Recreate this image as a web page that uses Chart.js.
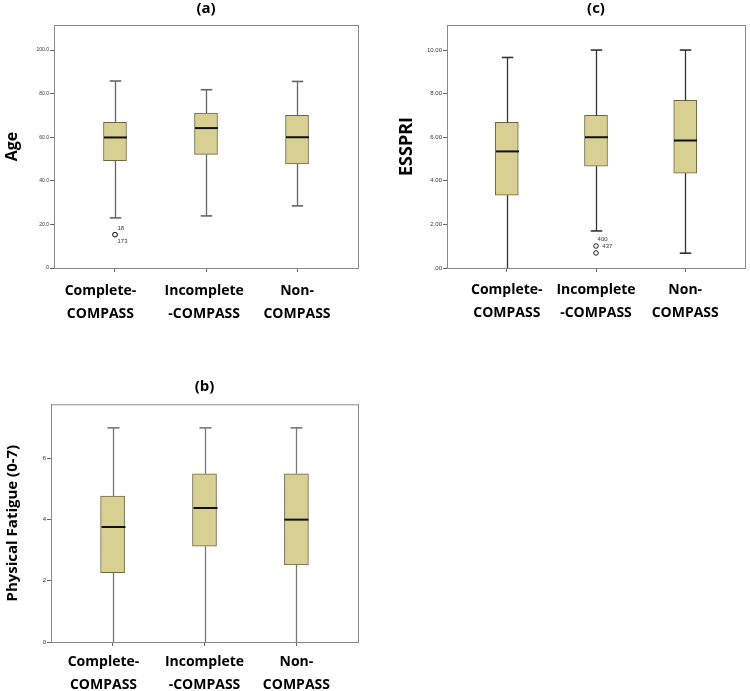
<!DOCTYPE html>
<html>
<head>
<meta charset="utf-8">
<script src="https://cdn.jsdelivr.net/npm/chart.js@4.4.1/dist/chart.umd.min.js"></script>
<style>
  html, body { margin: 0; padding: 0; background: #fff; overflow: hidden; }
  .panel { position: absolute; }
</style>
</head>
<body>
<div class="panel" style="left:0;top:0"><canvas id="ageChart" width="375" height="330"></canvas></div>
<div class="panel" style="left:375px;top:0"><canvas id="esspriChart" width="375" height="330"></canvas></div>
<div class="panel" style="left:0;top:378px"><canvas id="fatigueChart" width="375" height="313"></canvas></div>
<script>
// groups shared by all three panels
const groupLabels = [['Complete-', 'COMPASS'], ['Incomplete', '-COMPASS'], ['Non-', 'COMPASS']];

// (a) Age
const ageLow = [23.0, 23.9, 28.5];
const ageQ1 = [49.3, 52.1, 47.8];
const ageMedian = [59.9, 64.2, 60.0];
const ageQ3 = [66.8, 71.1, 70.0];
const ageHigh = [85.8, 81.8, 85.6];
const ageOutGroup = [1, 1];
const ageOutValue = [15.3, 15.3];
const ageOutId = ['18', '173'];
const ageTicks = [0, 20, 40, 60, 80, 100];
const ageTickLabels = ['.0', '20.0', '40.0', '60.0', '80.0', '100.0'];

// (c) ESSPRI
const esspriLow = [0, 1.70, 0.68];
const esspriQ1 = [3.34, 4.67, 4.35];
const esspriMedian = [5.35, 6.0, 5.85];
const esspriQ3 = [6.68, 7.0, 7.69];
const esspriHigh = [9.66, 10, 10];
const esspriOutGroup = [2, 2];
const esspriOutValue = [1.01, 0.69];
const esspriOutId = ['400', '437'];
const esspriTicks = [0, 2, 4, 6, 8, 10];
const esspriTickLabels = ['.00', '2.00', '4.00', '6.00', '8.00', '10.00'];

// (b) Physical fatigue
const fatigueLow = [0, 0, 0];
const fatigueQ1 = [2.27, 3.13, 2.52];
const fatigueMedian = [3.76, 4.38, 4.0];
const fatigueQ3 = [4.77, 5.5, 5.5];
const fatigueHigh = [7, 7, 7];
const fatigueTicks = [0, 2, 4, 6];
const fatigueTickLabels = ['0', '2', '4', '6'];

Chart.defaults.font.family = '"Open Sans", sans-serif';

// whiskers, medians, frame and outlier ids
const boxExtras = {
  id: 'boxExtras',
  afterDatasetsDraw(chart, args, o) {
    const { ctx, chartArea: a, scales: { x, y } } = chart;
    ctx.save();
    ctx.strokeStyle = '#8a8a8a';
    ctx.lineWidth = 1;
    ctx.strokeRect(a.left + 0.5, a.top + 0.5, a.width, a.height);

    const half = o.boxWidth / 2, cap = o.boxWidth / 4;
    const seg = (x1, y1, x2, y2) => { ctx.beginPath(); ctx.moveTo(x1, y1); ctx.lineTo(x2, y2); ctx.stroke(); };
    o.low.forEach((lo, i) => {
      const px = Math.round(x.getPixelForValue(i + 1)) + 0.5;
      ctx.strokeStyle = o.whiskerColor;
      ctx.lineWidth = 1.3;
      seg(px, y.getPixelForValue(lo), px, y.getPixelForValue(o.q1[i]));
      seg(px, y.getPixelForValue(o.q3[i]), px, y.getPixelForValue(o.high[i]));
      ctx.lineWidth = 1.6;
      seg(px - cap, y.getPixelForValue(o.high[i]), px + cap, y.getPixelForValue(o.high[i]));
      if (lo > y.min) seg(px - cap, y.getPixelForValue(lo), px + cap, y.getPixelForValue(lo));
      ctx.strokeStyle = '#111';
      ctx.lineWidth = 2;
      const my = y.getPixelForValue(o.median[i]);
      seg(px - half, my, px + half, my);
    });

    ctx.fillStyle = '#333';
    ctx.font = '6px "Liberation Sans", sans-serif';
    ctx.textBaseline = 'middle';
    (o.outIds || []).forEach((id, i) => {
      const px = x.getPixelForValue(o.outGroup[i]);
      const py = y.getPixelForValue(o.outValue[i]);
      ctx.fillText(id, px + o.idOffsets[i][0], py + o.idOffsets[i][1]);
    });
    ctx.restore();
  }
};

function makeBoxChart(id, s) {
  const datasets = [{
    type: 'bar',
    data: s.q1.map((v, i) => ({ x: i + 1, y: [v, s.q3[i]] })),
    backgroundColor: '#d7d092',
    borderColor: '#6c6842',
    borderWidth: 1,
    borderSkipped: false,
    barThickness: s.boxWidth
  }];
  if (s.outIds) {
    datasets.push({
      type: 'scatter',
      data: s.outGroup.map((g, i) => ({ x: g, y: s.outValue[i] })),
      pointRadius: 2.3,
      pointBackgroundColor: '#fff',
      pointBorderColor: '#222',
      pointBorderWidth: 1
    });
  }
  // trailing spaces nudge a label left, as in the original layout
  const xLabel = v => groupLabels[v - 1].map(t => t + ' '.repeat(s.labelPad[v - 1]));
  return new Chart(document.getElementById(id), {
    type: 'bar',
    data: { datasets },
    plugins: [boxExtras],
    options: {
      responsive: false,
      animation: false,
      layout: { padding: { right: s.padRight } },
      plugins: {
        legend: { display: false },
        tooltip: { enabled: false },
        title: {
          display: true, text: s.title, color: '#000', fullSize: false,
          font: { size: 15, weight: 'bold' },
          padding: { top: 0, bottom: s.titleGap }
        },
        boxExtras: s
      },
      scales: {
        x: {
          type: 'linear', min: 0.33, max: 3.67, offset: false,
          afterBuildTicks: sc => { sc.ticks = [1, 2, 3].map(v => ({ value: v })); },
          ticks: {
            callback: xLabel,
            color: '#000', autoSkip: false, maxRotation: 0, padding: s.xPad,
            font: { size: 14, weight: 'bold', lineHeight: 1.62 }
          },
          grid: { drawOnChartArea: false, offset: false, tickLength: 4, color: '#666' },
          border: { color: '#666' },
          afterFit: sc => { sc.height = s.xHeight; }
        },
        y: {
          min: 0, max: s.yMax,
          afterBuildTicks: sc => { sc.ticks = s.ticks.map(v => ({ value: v })); },
          ticks: {
            callback: (v, i) => s.tickLabels[i],
            color: '#333', padding: 1,
            font: { family: '"Liberation Sans", sans-serif', size: s.tickSize }
          },
          grid: { drawOnChartArea: false, tickLength: 4, color: '#666' },
          border: { color: '#666' },
          title: {
            display: true, text: s.yTitle, color: '#000',
            font: { size: s.yTitleSize, weight: 'bold' },
            padding: { top: s.yTitlePad, bottom: 0 }
          },
          afterFit: sc => { sc.width = s.yWidth; }
        }
      }
    }
  });
}

makeBoxChart('ageChart', {
  title: '(a)', titleGap: 7, yTitle: 'Age', yTitleSize: 16, yTitlePad: 2.4,
  low: ageLow, q1: ageQ1, median: ageMedian, q3: ageQ3, high: ageHigh,
  outGroup: ageOutGroup, outValue: ageOutValue, outIds: ageOutId, idOffsets: [[2.5, -6], [2.5, 6.5]],
  ticks: ageTicks, tickLabels: ageTickLabels, yMax: 111.5, tickSize: 5,
  boxWidth: 23, whiskerColor: '#666', yWidth: 54, xHeight: 62, padRight: 17,
  xPad: 8, labelPad: [8, 1, 0]
});

makeBoxChart('esspriChart', {
  title: '(c)', titleGap: 7, yTitle: 'ESSPRI', yTitleSize: 18, yTitlePad: 20.9,
  low: esspriLow, q1: esspriQ1, median: esspriMedian, q3: esspriQ3, high: esspriHigh,
  outGroup: esspriOutGroup, outValue: esspriOutValue, outIds: esspriOutId, idOffsets: [[1.6, -6.7], [6.3, -6.7]],
  ticks: esspriTicks, tickLabels: esspriTickLabels, yMax: 11.15, tickSize: 6,
  boxWidth: 23, whiskerColor: '#333', yWidth: 72, xHeight: 62, padRight: 2,
  xPad: 6.5, labelPad: [0, 0, 0]
});

makeBoxChart('fatigueChart', {
  title: '(b)', titleGap: 8.3, yTitle: 'Physical Fatigue (0-7)', yTitleSize: 15, yTitlePad: 4,
  low: fatigueLow, q1: fatigueQ1, median: fatigueMedian, q3: fatigueQ3, high: fatigueHigh,
  ticks: fatigueTicks, tickLabels: fatigueTickLabels, yMax: 7.77, tickSize: 6,
  boxWidth: 24, whiskerColor: '#777', yWidth: 51, xHeight: 49, padRight: 17,
  xPad: 5, labelPad: [5, 0, 0]
});
</script>
</body>
</html>
